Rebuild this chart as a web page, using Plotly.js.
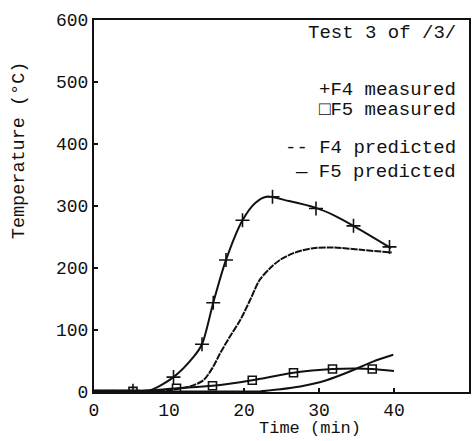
<!DOCTYPE html>
<html><head><meta charset="utf-8">
<script src="https://cdn.plot.ly/plotly-3.0.1.min.js"></script>
<style>html,body{margin:0;padding:0;background:#fff}#chart{width:475px;height:441px}</style>
</head><body><div id="chart"></div>
<script>
// F4 measured markers
const f4MeasT = [5.2, 10.6, 14.4, 15.9, 17.6, 19.8, 23.8, 29.6, 34.6, 39.4];
const f4MeasV = [2, 24, 77, 144, 213, 277, 315, 296, 268, 234];
// curve drawn through F4 measured
const f4CurveT = [0, 5, 7.5, 10.6, 13.3, 14.4, 15.9, 17.6, 19.8, 21.5, 23, 26, 29.6, 32, 34.6, 39.6];
const f4CurveV = [2, 2, 3, 24, 57, 77, 144, 213, 277, 305, 315, 308, 297, 285, 268, 232];
// F5 measured markers
const f5MeasT = [5.2, 11.0, 15.8, 21.1, 26.6, 31.8, 37.1];
const f5MeasV = [1, 6, 10, 19, 31, 37, 37];
// curve drawn through F5 measured
const f5CurveT = [0, 5.2, 8, 11, 15.8, 21.1, 26.6, 31.8, 35, 37.1, 40];
const f5CurveV = [2, 2, 3, 6, 10, 19, 31, 37, 38, 37, 34];
// F4 predicted
const f4PredT = [0, 7, 10, 12.8, 14.6, 15.9, 16.8, 18.1, 19.5, 20.8, 22.1, 23.5, 24.8, 26.6, 29.2, 31.9, 35.9, 39.7];
const f4PredV = [2, 2, 3, 9, 19, 41, 62, 89, 116, 148, 181, 200, 213, 224, 232, 233, 229, 225];
// F5 predicted
const f5PredT = [0, 10, 15, 20, 22.1, 24.5, 27.5, 31.0, 34.1, 37.2, 39.9];
const f5PredV = [1, 1, 1, 1, 1, 4, 9, 19, 33, 49, 60];

const xTicks = [0, 10, 20, 30, 40, 50];
const yTicks = [0, 100, 200, 300, 400, 500, 600];

const FONT = '"Liberation Mono", "DejaVu Sans Mono", monospace';
const black = '#111';

const traces = [
  {x: f4CurveT, y: f4CurveV, mode: 'lines', line: {color: black, width: 2, shape: 'spline', smoothing: 0.8}, hoverinfo: 'skip'},
  {x: f5CurveT, y: f5CurveV, mode: 'lines', line: {color: black, width: 2, shape: 'spline', smoothing: 0.8}, hoverinfo: 'skip'},
  {x: f4PredT, y: f4PredV, mode: 'lines', line: {color: black, width: 2, shape: 'spline', smoothing: 0.8, dash: '7px,1px'}, hoverinfo: 'skip'},
  {x: f5PredT, y: f5PredV, mode: 'lines', line: {color: black, width: 2, shape: 'spline', smoothing: 0.8}, hoverinfo: 'skip'},
  {x: f4MeasT, y: f4MeasV, mode: 'markers', marker: {symbol: 'cross-thin', size: 10, color: black, line: {color: black, width: 1.6}}},
  {x: f5MeasT, y: f5MeasV, mode: 'markers', marker: {symbol: 'square-open', size: 8, color: black, line: {color: black, width: 1.6}}}
];

const ann = (text, x, y, size, anchor, extra) => Object.assign({
  text: text, xref: 'paper', yref: 'paper', x: x, y: y, xanchor: anchor, yanchor: 'middle',
  showarrow: false, font: {family: FONT, size: size, color: black}
}, extra || {});

const layout = {
  width: 475, height: 441,
  margin: {l: 94, r: 6, t: 20, b: 49},
  paper_bgcolor: '#fff', plot_bgcolor: '#fff',
  showlegend: false,
  font: {family: FONT, size: 18, color: black},
  xaxis: {range: [0, 50], tickvals: xTicks, ticktext: xTicks.map(String), ticks: 'inside', ticklen: 4, tickwidth: 1.5, tickcolor: black,
          showline: true, linecolor: black, linewidth: 2, mirror: true, showgrid: false, zeroline: false,
          tickfont: {family: FONT, size: 18, color: black}},
  yaxis: {range: [0, 600], tickvals: yTicks, ticktext: yTicks.map(String), ticks: 'inside', ticklen: 4, tickwidth: 1.5, tickcolor: black,
          showline: true, linecolor: black, linewidth: 2, mirror: true, showgrid: false, zeroline: false,
          tickfont: {family: FONT, size: 18, color: black}},
  annotations: [
    ann('Time (min)', 0.576, -0.097, 17, 'center'),
    ann('Temperature (°C)', -0.2, 0.65, 18.5, 'center', {textangle: -90}),
    ann('Test 3 of /3/', 0.971, 0.965, 19, 'right'),
    ann('+F4 measured', 0.971, 0.812, 19, 'right'),
    ann('\u25A1F5 measured', 0.971, 0.758, 19, 'right'),
    ann('-- F4 predicted', 0.971, 0.656, 19, 'right'),
    ann('\u2014 F5 predicted', 0.971, 0.591, 19, 'right')
  ]
};

Plotly.newPlot('chart', traces, layout, {displayModeBar: false, staticPlot: true});
</script></body></html>
